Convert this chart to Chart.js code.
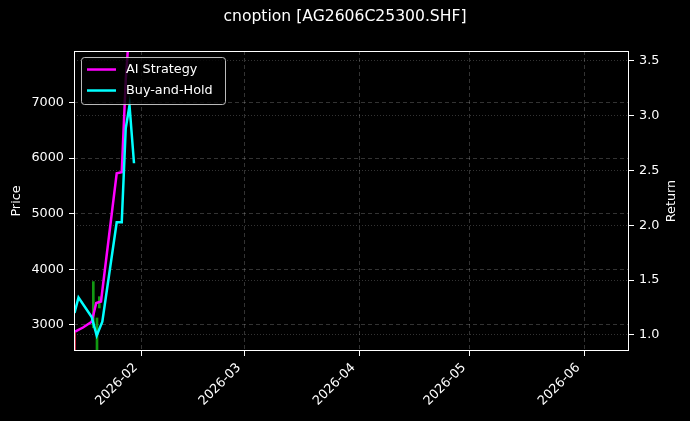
<!DOCTYPE html>
<html>
<head>
<meta charset="utf-8">
<script src="https://cdn.jsdelivr.net/npm/chart.js@4.4.1/dist/chart.umd.min.js"></script>
<style>
  html, body { margin: 0; padding: 0; background: #000; }
  #wrap { width: 690px; height: 421px; position: relative; }
</style>
</head>
<body>
<div id="wrap"><canvas id="c"></canvas></div>
<script>
// ---------------- data ----------------
const titleText = 'cnoption [AG2606C25300.SHF]';
const seriesNames = ['AI Strategy', 'Buy-and-Hold'];
const leftAxisTitle = 'Price';
const rightAxisTitle = 'Return';

const aiTimes = ['2026-01-13T22:00', '2026-01-16T02:00', '2026-01-18T10:30', '2026-01-19T16:00',
                 '2026-01-20T23:00', '2026-01-25T05:15', '2026-01-26T14:00', '2026-01-27T16:00',
                 '2026-01-28T15:30'];
const aiReturns = [1.030, 1.068, 1.121, 1.292, 1.305, 2.474, 2.483, 3.324, 3.79];

const bhTimes = ['2026-01-13T18:45', '2026-01-14T20:40', '2026-01-18T10:30', '2026-01-19T19:10',
                 '2026-01-21T07:40', '2026-01-25T05:15', '2026-01-26T14:00', '2026-01-27T16:00',
                 '2026-01-28T16:30', '2026-01-29T21:50'];
const bhReturns = [1.201, 1.342, 1.164, 0.995, 1.121, 2.027, 2.027, 2.884, 3.092, 2.565];

const candleTimes = ['2026-01-13T19:10', '2026-01-18T21:00', '2026-01-19T21:00', '2026-01-20T12:00'];
const candleLow = [2400, 2950, 2400, 3306];
const candleHigh = [2880, 3780, 3126, 3509];
const candleRising = [false, true, true, true];

const monthTickLabels = ['2026-02', '2026-03', '2026-04', '2026-05', '2026-06'];
const priceTicks = [3000, 4000, 5000, 6000, 7000];
const returnTicks = [1.0, 1.5, 2.0, 2.5, 3.0, 3.5];
const xRange = ['2026-01-13T15:20', '2026-06-13T03:00'];
const priceRange = [2532, 7926];
const returnRange = [0.854, 3.588];

// ---------------- helpers ----------------
const EPOCH = Date.UTC(2026, 0, 1);
const DAY = 86400000;
function toDay(s) {
  const iso = s.length === 7 ? s + '-01T00:00:00Z' : s + ':00Z';
  return (Date.parse(iso) - EPOCH) / DAY;
}

const FONT = 'DejaVu Sans';
const FS = 12.8;
const tickFont = { family: FONT, size: FS };

const decorations = {
  id: 'decorations',
  afterDraw(chart) {
    const ctx = chart.ctx;
    const a = chart.chartArea;
    ctx.save();
    // x tick labels, rotated 45 deg, right edge of their box at the tick
    const xs = chart.scales.x;
    const h = FS * 1.164;
    ctx.font = FS + 'px "' + FONT + '"';
    ctx.fillStyle = '#ffffff';
    xs.ticks.forEach((t, i) => {
      const px = xs.getPixelForValue(t.value);
      ctx.save();
      ctx.translate(px - 0.7071 * h, xs.top + 10);
      ctx.rotate(-Math.PI / 4);
      ctx.textAlign = 'right';
      ctx.textBaseline = 'top';
      ctx.fillText(monthTickLabels[i], 0, 0);
      ctx.restore();
    });
    // right axis title, reading bottom to top
    const ys = chart.scales.y1;
    ctx.save();
    ctx.translate(ys.right - 18, (a.top + a.bottom) / 2);
    ctx.rotate(-Math.PI / 2);
    ctx.textAlign = 'center';
    ctx.textBaseline = 'middle';
    ctx.fillText(rightAxisTitle, 0, 0);
    ctx.restore();
    ctx.restore();
  },
  afterDatasetsDraw(chart) {
    const ctx = chart.ctx;
    const a = chart.chartArea;
    ctx.save();
    // spines
    ctx.strokeStyle = '#ffffff';
    ctx.lineWidth = 1;
    ctx.strokeRect(Math.round(a.left) + 0.5, Math.round(a.top) + 0.5,
                   Math.round(a.right - a.left) - 1, Math.round(a.bottom - a.top) - 1);
    // legend
    const lx = a.left + 7.5, ly = a.top + 6.5, lw = 144, lh = 47, r = 3;
    ctx.beginPath();
    ctx.moveTo(lx + r, ly);
    ctx.lineTo(lx + lw - r, ly); ctx.quadraticCurveTo(lx + lw, ly, lx + lw, ly + r);
    ctx.lineTo(lx + lw, ly + lh - r); ctx.quadraticCurveTo(lx + lw, ly + lh, lx + lw - r, ly + lh);
    ctx.lineTo(lx + r, ly + lh); ctx.quadraticCurveTo(lx, ly + lh, lx, ly + lh - r);
    ctx.lineTo(lx, ly + r); ctx.quadraticCurveTo(lx, ly, lx + r, ly);
    ctx.closePath();
    ctx.fillStyle = 'rgba(0,0,0,0.8)';
    ctx.fill();
    ctx.strokeStyle = 'rgba(220,220,220,0.85)';
    ctx.stroke();
    const lineSets = chart.data.datasets.filter(d => d.type === 'line');
    ctx.font = FS + 'px "' + FONT + '"';
    ctx.textBaseline = 'middle';
    ctx.textAlign = 'left';
    lineSets.forEach((ds, i) => {
      const y = a.top + 18.5 + i * 21;
      ctx.strokeStyle = ds.borderColor;
      ctx.lineWidth = 2.5;
      ctx.beginPath();
      ctx.moveTo(a.left + 13, y);
      ctx.lineTo(a.left + 42, y);
      ctx.stroke();
      ctx.fillStyle = '#ffffff';
      ctx.fillText(ds.label, a.left + 52, y);
    });
    ctx.restore();
  }
};

new Chart(document.getElementById('c'), {
  type: 'line',
  data: {
    datasets: [
      {
        type: 'bar',
        label: 'Price',
        data: candleTimes.map((t, i) => ({ x: toDay(t), y: [candleLow[i], candleHigh[i]] })),
        backgroundColor: candleRising.map(up => up ? 'rgba(20,170,20,0.9)' : 'rgba(235,50,80,0.9)'),
        borderWidth: 0,
        barThickness: 2,
        grouped: false,
        xAxisID: 'x',
        yAxisID: 'y',
        order: 10
      },
      {
        type: 'line',
        label: seriesNames[0],
        data: aiTimes.map((t, i) => ({ x: toDay(t), y: aiReturns[i] })),
        borderColor: '#ff00ff',
        borderWidth: 2.5,
        pointRadius: 0,
        tension: 0,
        xAxisID: 'x',
        yAxisID: 'y1',
        order: 2
      },
      {
        type: 'line',
        label: seriesNames[1],
        data: bhTimes.map((t, i) => ({ x: toDay(t), y: bhReturns[i] })),
        borderColor: '#00ffff',
        borderWidth: 2.5,
        pointRadius: 0,
        tension: 0,
        xAxisID: 'x',
        yAxisID: 'y1',
        order: 1
      }
    ]
  },
  options: {
    responsive: true,
    maintainAspectRatio: false,
    animation: false,
    layout: { padding: 0 },
    plugins: {
      legend: { display: false },
      tooltip: { enabled: false },
      title: {
        display: true,
        text: titleText,
        color: '#ffffff',
        font: { family: FONT, size: 15.6, weight: 'normal' },
        padding: { top: 8, bottom: 24.3 }
      }
    },
    scales: {
      x: {
        type: 'linear',
        position: 'bottom',
        min: toDay(xRange[0]),
        max: toDay(xRange[1]),
        offset: false,
        afterBuildTicks: s => { s.ticks = monthTickLabels.map(l => ({ value: toDay(l) })); },
        afterFit: s => { s.height = 70; },
        ticks: {
          display: false, autoSkip: false,
          callback: (v, i) => monthTickLabels[i]
        },
        grid: { offset: false, color: 'rgba(255,255,255,0.25)', lineWidth: 0.8, tickColor: '#ffffff', tickLength: 5, tickWidth: 1 },
        border: { display: false, dash: [4, 3] }
      },
      y: {
        type: 'linear',
        position: 'left',
        min: priceRange[0],
        max: priceRange[1],
        afterBuildTicks: s => { s.ticks = priceTicks.map(v => ({ value: v })); },
        afterFit: s => { s.width = 74; },
        ticks: { color: '#ffffff', font: tickFont, padding: 5, callback: v => String(v) },
        title: { display: true, text: leftAxisTitle, color: '#ffffff', font: tickFont, padding: { top: 9, bottom: 0 } },
        grid: { color: 'rgba(255,255,255,0.25)', lineWidth: 0.8, tickColor: '#ffffff', tickLength: 5, tickWidth: 1 },
        border: { display: false, dash: [4, 3] }
      },
      y1: {
        type: 'linear',
        position: 'right',
        min: returnRange[0],
        max: returnRange[1],
        afterBuildTicks: s => { s.ticks = returnTicks.map(v => ({ value: v })); },
        afterFit: s => { s.width = 61; },
        ticks: { color: '#ffffff', font: tickFont, padding: 5, callback: v => v.toFixed(1) },
        title: { display: false, text: rightAxisTitle },
        grid: { color: 'rgba(255,255,255,0.25)', lineWidth: 0.8, tickColor: '#ffffff', tickLength: 5, tickWidth: 1 },
        border: { display: false, dash: [1, 2] }
      }
    }
  },
  plugins: [decorations]
});
</script>
</body>
</html>
